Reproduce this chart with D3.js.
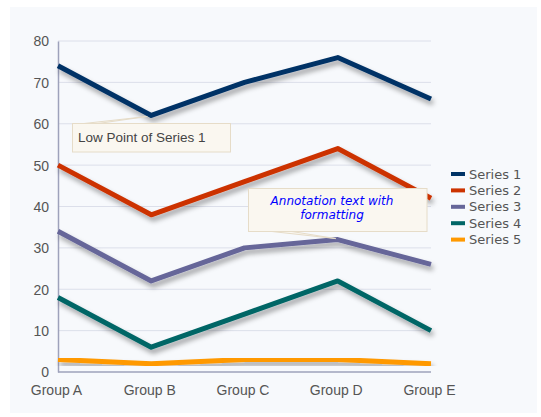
<!DOCTYPE html>
<html><head><meta charset="utf-8">
<script src="https://cdn.jsdelivr.net/npm/d3@7"></script>
<style>body{margin:0;background:#fff}svg{display:block}</style>
</head><body>
<script>
const groups = ["Group A","Group B","Group C","Group D","Group E"];
const seriesNames = ["Series 1","Series 2","Series 3","Series 4","Series 5"];
const series1 = [74, 62, 70, 76, 66];
const series2 = [50, 38, 46, 54, 42];
const series3 = [34, 22, 30, 32, 26];
const series4 = [18, 6, 14, 22, 10];
const series5 = [3, 2, 3, 3, 2];
const colors = ["#003366","#CC3300","#666699","#006666","#FF9900"];
const yTicks = [0,10,20,30,40,50,60,70,80];
const note1 = ["Low Point of Series 1"];
const note2 = ["Annotation text with","formatting"];

const allSeries = [series1, series2, series3, series4, series5];
const W = 541, H = 417;
const svg = d3.select("body").append("svg").attr("width", W).attr("height", H);
const defs = svg.append("defs");
const f = defs.append("filter").attr("id","sh").attr("x","-10%").attr("y","-20%").attr("width","130%").attr("height","160%");
f.append("feDropShadow").attr("dx",2).attr("dy",4).attr("stdDeviation",2.4).attr("flood-color","#000").attr("flood-opacity",0.35);

svg.append("rect").attr("x",10).attr("y",7).attr("width",527).attr("height",406).attr("fill","#f7f9fc");

const x = d3.scalePoint().domain(groups).range([58, 431]);
const y = d3.scaleLinear().domain([0, 80]).range([372, 41]);

// gridlines
svg.append("g").selectAll("line").data(yTicks.filter(d => d > 0)).join("line")
  .attr("x1", 58).attr("x2", 431).attr("y1", d => y(d)).attr("y2", d => y(d))
  .attr("stroke", "#dcdfea").attr("stroke-width", 1);

// y axis
const ya = svg.append("g").attr("transform","translate(58,0)")
  .call(d3.axisLeft(y).tickValues(yTicks).tickSize(0).tickPadding(9));
ya.select(".domain").attr("stroke","#9ea2bb").attr("stroke-width",1.5);
ya.selectAll("text").attr("font-family","Liberation Sans, Arial, sans-serif").attr("font-size",14).attr("fill","#555").attr("dy","0.35em");

// x axis
const xa = svg.append("g").attr("transform","translate(0,372)")
  .call(d3.axisBottom(x).tickSize(0).tickPadding(13));
xa.select(".domain").attr("stroke","#9ea2bb").attr("stroke-width",1.5).attr("d","M58,0H431");
xa.selectAll("text").attr("font-family","Liberation Sans, Arial, sans-serif").attr("font-size",14).attr("fill","#555").attr("dx","-2");

// lines
const line = d3.line().x((d,i) => x(groups[i])).y(d => y(d));
svg.append("g").selectAll("path").data(allSeries).join("path")
  .attr("d", d => line(d)).attr("fill","none")
  .attr("stroke", (d,i) => colors[i]).attr("stroke-width", 5)
  .attr("stroke-linejoin","round").attr("filter","url(#sh)");

// annotation 1
const a1 = svg.append("g");
a1.append("path").attr("d", `M84,123.5L${x("Group B")-4},${y(series1[1])+1}L98,123.5Z`)
  .attr("fill","#faf7f0").attr("stroke","#e6dcc8").attr("stroke-width",1);
a1.append("rect").attr("x",72.5).attr("y",123.5).attr("width",158).attr("height",28.5)
  .attr("fill","#faf7f0").attr("stroke","#e6dcc8").attr("stroke-width",1);
a1.append("text").attr("x",78).attr("y",142).text(note1[0])
  .attr("font-family","Liberation Sans, Arial, sans-serif").attr("font-size",13.5).attr("fill","#444");

// annotation 2
const a2 = svg.append("g");
a2.append("path").attr("d", `M272,231.5L${x("Group D")-2},${y(series3[3])-1}L292,231.5Z`)
  .attr("fill","#faf7f0").attr("stroke","#e6dcc8").attr("stroke-width",1);
a2.append("rect").attr("x",248.5).attr("y",188.5).attr("width",178.5).attr("height",43)
  .attr("fill","#faf7f0").attr("stroke","#e6dcc8").attr("stroke-width",1);
a2.selectAll("text").data(note2).join("text")
  .attr("x",332).attr("y",(d,i) => 205 + i*14).attr("text-anchor","middle").text(d => d)
  .attr("font-family","DejaVu Sans, sans-serif").attr("font-style","italic").attr("font-size",12).attr("fill","#0000ff");

// legend
const lg = svg.append("g").selectAll("g").data(seriesNames).join("g")
  .attr("transform",(d,i) => `translate(451,${174 + i*16.4})`);
lg.append("rect").attr("x",0).attr("y",-2).attr("width",14).attr("height",4).attr("fill",(d,i) => colors[i]);
lg.append("text").attr("x",18).attr("y",0).attr("dy","0.36em").text(d => d)
  .attr("font-family","DejaVu Sans, sans-serif").attr("font-size",13).attr("fill","#555");
</script>
</body></html>
